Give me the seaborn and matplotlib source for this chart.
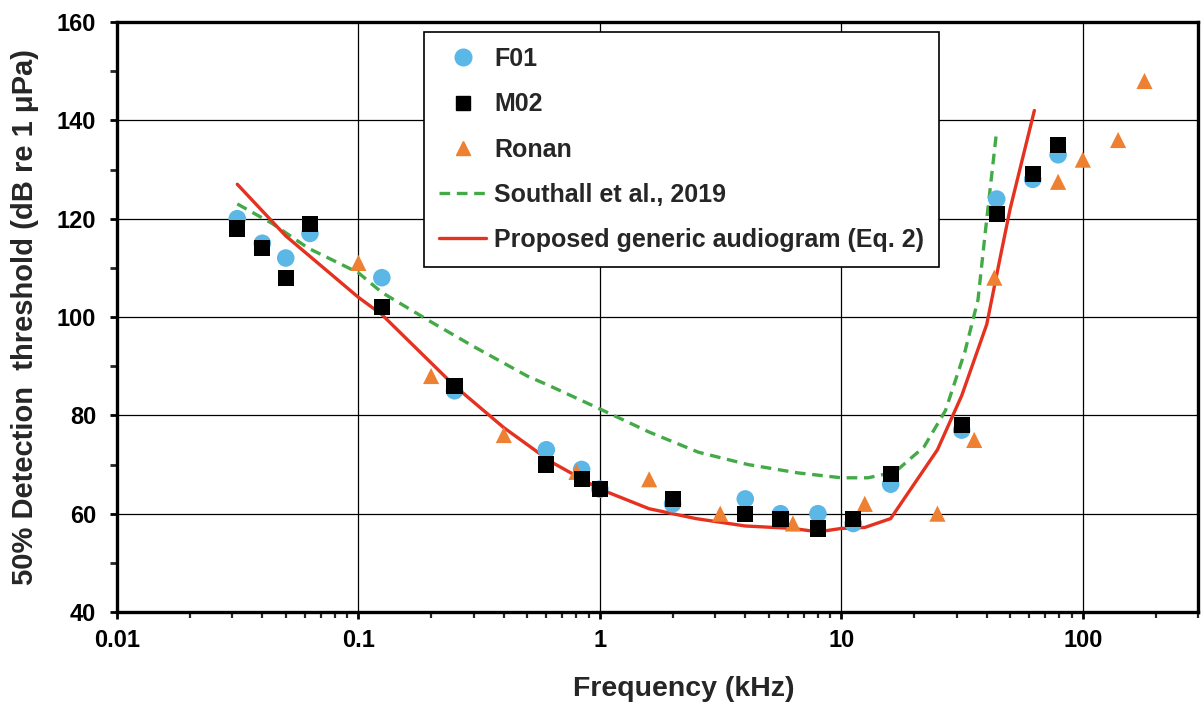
import numpy as np
import pandas as pd
import seaborn as sns
import matplotlib.pyplot as plt
from matplotlib.lines import Line2D
from matplotlib.ticker import FixedLocator, FuncFormatter, LogLocator, NullFormatter, MultipleLocator

# --- data ---
f01_freq = [0.0315, 0.04, 0.05, 0.063, 0.125, 0.25, 0.6, 0.84, 1, 2, 4, 5.6, 8, 11.2, 16, 31.5, 44, 62, 79]
f01_db = [120, 115, 112, 117, 108, 85, 73, 69, 65, 62, 63, 60, 60, 58, 66, 77, 124, 128, 133]

m02_freq = [0.0315, 0.04, 0.05, 0.063, 0.125, 0.25, 0.6, 0.84, 1, 2, 4, 5.6, 8, 11.2, 16, 31.5, 44, 62, 79]
m02_db = [118, 114, 108, 119, 102, 86, 70, 67, 65, 63, 60, 59, 57, 59, 68, 78, 121, 129, 135]

ronan_freq = [0.1, 0.2, 0.4, 0.8, 1.6, 3.15, 6.3, 12.5, 25, 35.5, 43, 79, 100, 140, 180]
ronan_db = [111, 88, 76, 68.5, 67, 60, 58, 62, 60, 75, 108, 127.5, 132, 136, 148]

southall_freq = [0.0315, 0.044, 0.062, 0.1, 0.125, 0.2, 0.3, 0.5, 0.62, 1, 1.6, 2.56, 4.1, 6.6, 10,
                 12.9, 16.7, 22, 27, 32.5, 36.8, 39.4, 44]
southall_db = [123, 119, 114, 109, 105, 99, 94, 88, 86, 81.3, 76.6, 72.5, 70, 68.3, 67.3,
               67.3, 68.5, 73.6, 81, 93, 103.5, 117, 138]

proposed_freq = [0.0315, 0.05, 0.1, 0.125, 0.25, 0.4, 0.63, 1, 1.6, 2.5, 4, 6.3, 8, 10, 12.5,
                 16, 25, 31.5, 40, 45, 50, 63]
proposed_db = [127, 116.5, 104, 100.5, 86, 77.5, 70.5, 65, 61, 59, 57.5, 57, 56.3, 57, 57.2,
               59, 73, 84, 98.5, 111, 122, 142]

c_blue = '#5BB7E6'
c_orange = '#EE8032'
c_green = '#44AA48'
c_red = '#E5311F'

sns.set_style('white')
plt.rcParams['font.family'] = ['Liberation Sans', 'DejaVu Sans']
plt.rcParams['font.weight'] = 'bold'

fig, ax = plt.subplots(figsize=(12.02, 7.10), dpi=100)
fig.subplots_adjust(left=0.0973, right=0.9967, top=0.969, bottom=0.138)

# curves under the markers
sns.lineplot(x=southall_freq, y=southall_db, color=c_green, lw=2.4, ls=(0, (3.2, 2.0)),
             estimator=None, ax=ax, zorder=2)
sns.lineplot(x=proposed_freq, y=proposed_db, color=c_red, lw=2.4,
             estimator=None, ax=ax, zorder=2)

sns.scatterplot(x=f01_freq, y=f01_db, marker='o', s=160, color=c_blue, edgecolor='none', ax=ax, zorder=3)
sns.scatterplot(x=ronan_freq, y=ronan_db, marker='^', s=135, color=c_orange, edgecolor='none', ax=ax, zorder=4)
sns.scatterplot(x=m02_freq, y=m02_db, marker='s', s=135, color='black', edgecolor='none', ax=ax, zorder=5)

# axes
ax.set_xscale('log')
ax.set_xlim(0.01, 300)
ax.set_ylim(40, 160)
ax.xaxis.set_major_locator(FixedLocator([0.01, 0.1, 1, 10, 100]))
ax.xaxis.set_major_formatter(FuncFormatter(lambda v, p: f'{v:g}'))
ax.xaxis.set_minor_locator(LogLocator(base=10, subs=np.arange(2, 10), numticks=30))
ax.xaxis.set_minor_formatter(NullFormatter())
ax.yaxis.set_major_locator(MultipleLocator(20))
ax.yaxis.set_minor_locator(MultipleLocator(10))

ax.grid(True, which='major', color='black', lw=0.9)
ax.set_axisbelow(True)
for s in ax.spines.values():
    s.set_visible(True)
    s.set_color('black')
    s.set_linewidth(2.4)

ax.tick_params(axis='x', which='major', bottom=True, direction='out', length=5, width=2,
               labelsize=17, pad=7, colors='black')
ax.tick_params(axis='x', which='minor', bottom=True, direction='out', length=4, width=1.6)
ax.tick_params(axis='y', which='major', left=True, direction='out', length=5, width=2,
               labelsize=17, pad=10, colors='black')
ax.tick_params(axis='y', which='minor', left=True, direction='out', length=5, width=2)

ax.set_xlabel('Frequency (kHz)', fontsize=20.5, fontweight='bold')
ax.set_ylabel('50% Detection  threshold (dB re 1 μPa)', fontsize=21, fontweight='bold')
ax.xaxis.set_label_coords(0.524, -0.108)
ax.yaxis.set_label_coords(-0.072, 0.5)

# legend
handles = [
    Line2D([], [], marker='o', ls='none', color=c_blue, markersize=12),
    Line2D([], [], marker='s', ls='none', color='black', markersize=10.5),
    Line2D([], [], marker='^', ls='none', color=c_orange, markersize=10.5),
    Line2D([], [], color=c_green, lw=2.4, ls=(0, (3.2, 2.0))),
    Line2D([], [], color=c_red, lw=2.4),
]
labels = ['F01', 'M02', 'Ronan', 'Southall et al., 2019', 'Proposed generic audiogram (Eq. 2)']
leg = ax.legend(handles, labels, loc='upper left', bbox_to_anchor=(0.284, 0.983),
                frameon=True, fancybox=False, edgecolor='black', framealpha=1,
                fontsize=18, labelspacing=0.85, handlelength=1.9, handletextpad=0.3,
                borderpad=0.6, borderaxespad=0)
leg.get_frame().set_linewidth(1.2)
leg.set_zorder(6)

fig.savefig('out.png', dpi=100)
